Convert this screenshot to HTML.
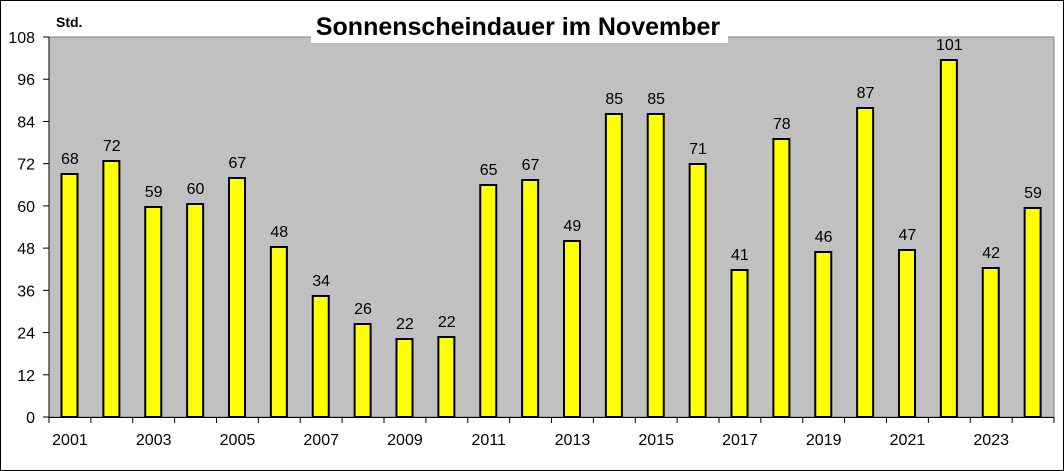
<!DOCTYPE html>
<html><head><meta charset="utf-8"><style>body{margin:0}svg{display:block}</style></head><body>
<svg width="1064" height="471" xmlns="http://www.w3.org/2000/svg" font-family="Liberation Sans, Arial, sans-serif">
<rect x="0.5" y="0.5" width="1063" height="470" fill="#fff" stroke="#000"/>
<rect x="49" y="37" width="1005" height="380" fill="#c0c0c0" stroke="#808080"/>
<g stroke="#000" stroke-width="1">
<line x1="49" y1="37" x2="49" y2="417"/>
<line x1="49" y1="417.5" x2="1054" y2="417.5"/>
</g>
<g id="yt" font-size="16" text-anchor="end" fill="#000"></g>
<g id="xt" font-size="16" text-anchor="middle" fill="#000"></g>
<g id="bars"></g>
<rect x="311" y="9" width="417" height="34" fill="#fff"/>
<text x="518" y="35" font-size="25" font-weight="bold" text-anchor="middle">Sonnenscheindauer im November</text>
<text x="56" y="27" font-size="14" font-weight="bold">Std.</text>
<script>
var ns="http://www.w3.org/2000/svg";
function el(p,t,a,txt){var e=document.createElementNS(ns,t);for(var k in a)e.setAttribute(k,a[k]);if(txt!=null)e.textContent=txt;p.appendChild(e);return e;}
var yt=document.getElementById('yt'),xt=document.getElementById('xt'),b=document.getElementById('bars');
for(var i=0;i<=9;i++){var v=i*12,y=417-v*380/108;el(yt,'text',{x:35,y:y+6},v);el(yt,'line',{x1:43,x2:49,y1:y,y2:y,stroke:'#000'});}
var cw=1005/24;
var tops=[174,161,207,204,178,247,296,324,339,337,185,180,241,114,114,164,270,139,252,108,250,60,268,208];
var labs=[68,72,59,60,67,48,34,26,22,22,65,67,49,85,85,71,41,78,46,87,47,101,42,59];
for(var i=0;i<=24;i++){var x=49+i*cw;el(xt,'line',{x1:x,x2:x,y1:417,y2:423,stroke:'#000'});}
for(var i=0;i<24;i++){var x=49+i*cw;
 if(i%2==0)el(xt,'text',{x:x+cw/2,y:445},2001+i);
 el(b,'rect',{x:x+12.5,y:tops[i],width:16,height:417-tops[i],fill:'#ffff00',stroke:'#000','stroke-width':2});
 el(b,'text',{x:x+cw/2,y:tops[i]-10,'font-size':16,'text-anchor':'middle'},labs[i]);}
</script>
</svg>
</body></html>
